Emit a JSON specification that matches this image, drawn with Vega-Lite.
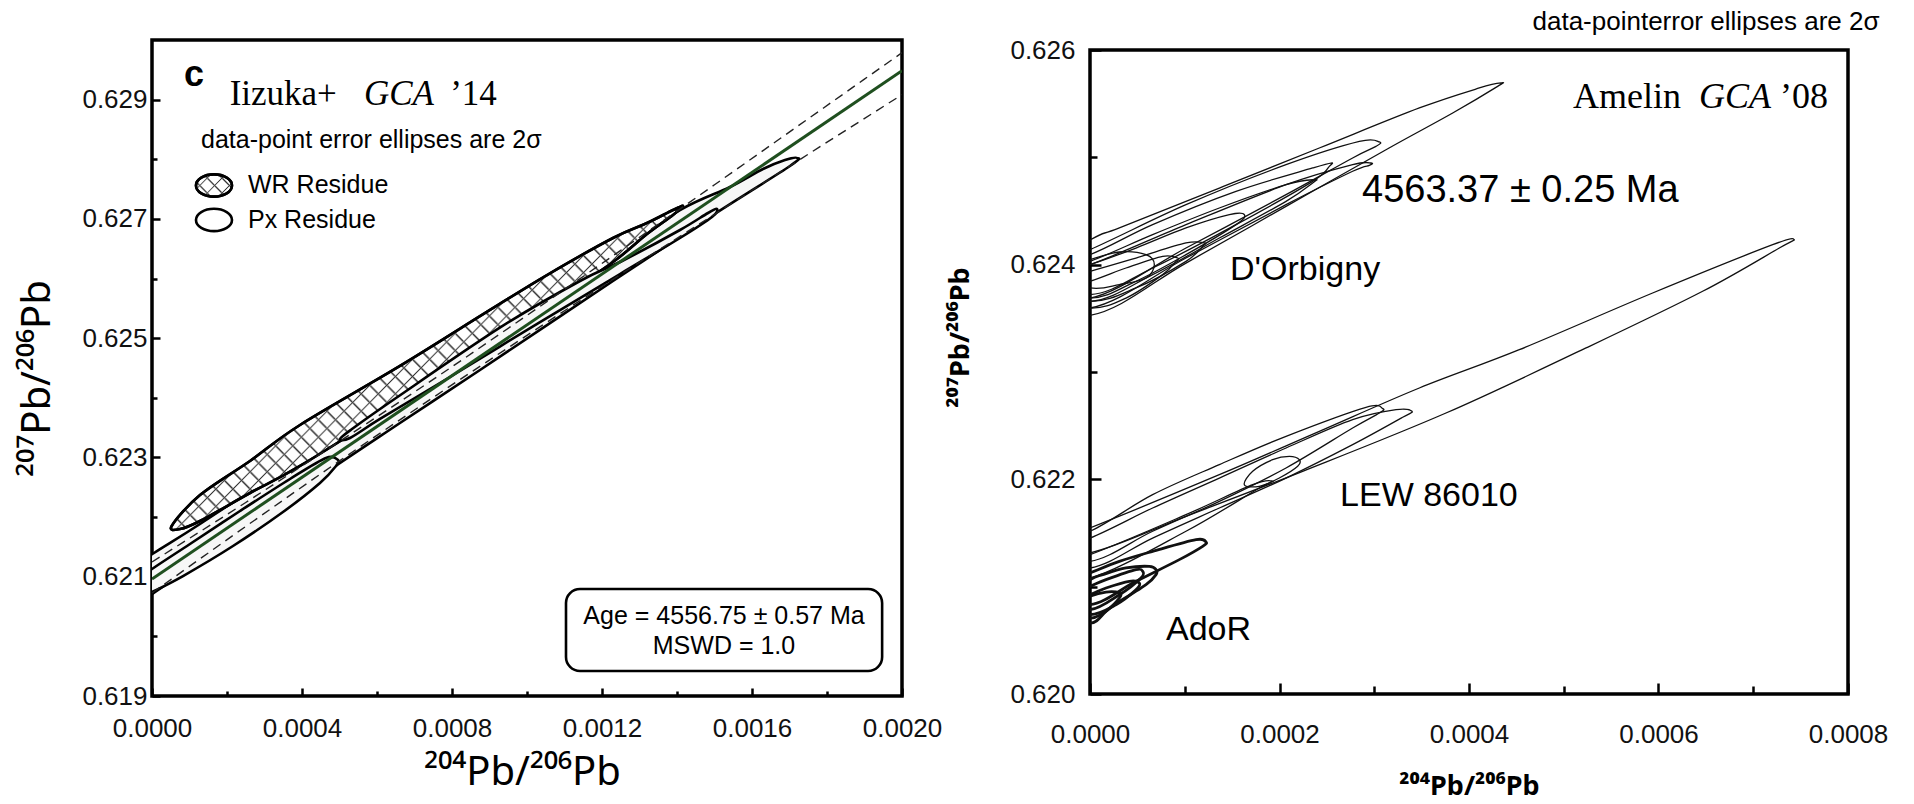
{
"$schema": "https://vega.github.io/schema/vega-lite/v6.json",
"background": "white",
"padding": {"left": 15, "top": 9, "right": 5, "bottom": 0},
"title": {"text": "data-pointerror ellipses are 2σ", "anchor": "end", "dx": -10, "fontSize": 26, "fontWeight": "normal", "font": "Liberation Sans", "color": "black", "offset": 0},
"spacing": 0,
"datasets": {
"lell": [
{"id":"WR","i":0,"x":0.0000525,"y":0.621851},{"id":"WR","i":1,"x":0.000128,"y":0.622370},{"id":"WR","i":2,"x":0.0002613,"y":0.622941},{"id":"WR","i":3,"x":0.0003947,"y":0.623544},{"id":"WR","i":4,"x":0.0006613,"y":0.624534},{"id":"WR","i":5,"x":0.0009013,"y":0.625473},{"id":"WR","i":6,"x":0.0010533,"y":0.626059},{"id":"WR","i":7,"x":0.0012293,"y":0.626680},{"id":"WR","i":8,"x":0.0013200,"y":0.626931},{"id":"WR","i":9,"x":0.0013893,"y":0.627149},{"id":"WR","i":10,"x":0.0014160,"y":0.627216},{"id":"WR","i":11,"x":0.0013893,"y":0.627066},{"id":"WR","i":12,"x":0.0013200,"y":0.626747},{"id":"WR","i":13,"x":0.0012293,"y":0.626277},{"id":"WR","i":14,"x":0.0010533,"y":0.625523},{"id":"WR","i":15,"x":0.0009013,"y":0.624902},{"id":"WR","i":16,"x":0.0006613,"y":0.623913},{"id":"WR","i":17,"x":0.0003947,"y":0.622857},{"id":"WR","i":18,"x":0.0002613,"y":0.622404},{"id":"WR","i":19,"x":0.000128,"y":0.621934},{"id":"WR","i":20,"x":0.0000747,"y":0.621800},
{"id":"Px2","i":0,"x":0.0017200,"y":0.628021},{"id":"Px2","i":1,"x":0.0016880,"y":0.627988},{"id":"Px2","i":2,"x":0.0016293,"y":0.627837},{"id":"Px2","i":3,"x":0.0015413,"y":0.627535},{"id":"Px2","i":4,"x":0.0014080,"y":0.627149},{"id":"Px2","i":5,"x":0.0011947,"y":0.626311},{"id":"Px2","i":6,"x":0.0009280,"y":0.625221},{"id":"Px2","i":7,"x":0.0006613,"y":0.624098},{"id":"Px2","i":8,"x":0.0003947,"y":0.622991},{"id":"Px2","i":9,"x":0.0001280,"y":0.621884},{"id":"Px2","i":10,"x":0.0000053,"y":0.621398},{"id":"Px2","i":11,"x":-0.0000587,"y":0.621113},{"id":"Px2","i":12,"x":-0.0001067,"y":0.620744},{"id":"Px2","i":13,"x":-0.0000720,"y":0.620526},{"id":"Px2","i":14,"x":0,"y":0.620710},{"id":"Px2","i":15,"x":0.0001280,"y":0.621281},{"id":"Px2","i":16,"x":0.0003947,"y":0.622454},{"id":"Px2","i":17,"x":0.0006613,"y":0.623578},{"id":"Px2","i":18,"x":0.0008747,"y":0.624467},{"id":"Px2","i":19,"x":0.0012293,"y":0.625959},{"id":"Px2","i":20,"x":0.0014960,"y":0.627066},{"id":"Px2","i":21,"x":0.0017013,"y":0.627887},
{"id":"Px1","i":0,"x":0.000496,"y":0.622957},{"id":"Px1","i":1,"x":0.000464,"y":0.622991},{"id":"Px1","i":2,"x":0.000368,"y":0.622639},{"id":"Px1","i":3,"x":0.0002347,"y":0.622102},{"id":"Px1","i":4,"x":0.0001013,"y":0.621549},{"id":"Px1","i":5,"x":0,"y":0.621130},{"id":"Px1","i":6,"x":-0.000072,"y":0.620811},{"id":"Px1","i":7,"x":-0.0000987,"y":0.620643},{"id":"Px1","i":8,"x":-0.0000587,"y":0.620576},{"id":"Px1","i":9,"x":0,"y":0.620744},{"id":"Px1","i":10,"x":0.0000827,"y":0.621012},{"id":"Px1","i":11,"x":0.000216,"y":0.621515},{"id":"Px1","i":12,"x":0.0003493,"y":0.622085},{"id":"Px1","i":13,"x":0.000448,"y":0.622572},{"id":"Px1","i":14,"x":0.0004907,"y":0.622857},
{"id":"Px3","i":0,"x":0.0005013,"y":0.623310},{"id":"Px3","i":1,"x":0.0005333,"y":0.623477},{"id":"Px3","i":2,"x":0.0006507,"y":0.623997},{"id":"Px3","i":3,"x":0.0009307,"y":0.625188},{"id":"Px3","i":4,"x":0.0011413,"y":0.625959},{"id":"Px3","i":5,"x":0.0012587,"y":0.626311},{"id":"Px3","i":6,"x":0.0014080,"y":0.626814},{"id":"Px3","i":7,"x":0.0014827,"y":0.627099},{"id":"Px3","i":8,"x":0.0015067,"y":0.627166},{"id":"Px3","i":9,"x":0.0014933,"y":0.627032},{"id":"Px3","i":10,"x":0.0014080,"y":0.626680},{"id":"Px3","i":11,"x":0.001248,"y":0.626076},{"id":"Px3","i":12,"x":0.0010347,"y":0.625271},{"id":"Px3","i":13,"x":0.0007947,"y":0.624349},{"id":"Px3","i":14,"x":0.000608,"y":0.623645},{"id":"Px3","i":15,"x":0.000528,"y":0.623326}
],
"llines": [
{"s":"fit","x":0,"y":0.620962},{"s":"fit","x":0.002,"y":0.629485},
{"s":"up","x":0,"y":0.621247},{"s":"up","x":0.00025,"y":0.622245},{"s":"up","x":0.0005,"y":0.623269},{"s":"up","x":0.00075,"y":0.624309},{"s":"up","x":0.001,"y":0.625383},{"s":"up","x":0.00125,"y":0.626473},{"s":"up","x":0.0015,"y":0.627572},{"s":"up","x":0.00175,"y":0.628680},{"s":"up","x":0.002,"y":0.629787},
{"s":"lo","x":0,"y":0.620727},{"s":"lo","x":0.00025,"y":0.621843},{"s":"lo","x":0.0005,"y":0.622942},{"s":"lo","x":0.00075,"y":0.624007},{"s":"lo","x":0.001,"y":0.625048},{"s":"lo","x":0.00125,"y":0.626071},{"s":"lo","x":0.0015,"y":0.627077},{"s":"lo","x":0.00175,"y":0.628085},{"s":"lo","x":0.002,"y":0.629083}
],
"lleg": [{"k":"WR","x":0.0001653,"y":0.627560},{"k":"Px","x":0.0001653,"y":0.626982}],
"lbox": [{"x":0.001104,"x2":0.001947,"y":0.619419,"y2":0.620794}],
"ltext": [
{"t":"data-point error ellipses are 2σ","x":0.0001307,"y":0.628189},
{"t":"WR Residue","x":0.000256,"y":0.627434},
{"t":"Px Residue","x":0.000256,"y":0.626848},
{"t":"Age = 4556.75 ± 0.57 Ma","x":0.0015253,"y":0.620212},
{"t":"MSWD = 1.0","x":0.0015253,"y":0.619709},
{"t":"Iizuka+","x":0.000207,"y":0.628910},
{"t":"GCA","x":0.000565,"y":0.628910},
{"t":"’14","x":0.000795,"y":0.628910},
{"t":"c","x":0.0000853,"y":0.629229}
],
"rell": [
{"id":"DA","i":0,"x":0.0004338,"y":0.625693},{"id":"DA","i":1,"x":0.0004109,"y":0.625646},{"id":"DA","i":2,"x":0.0003476,"y":0.625460},{"id":"DA","i":3,"x":0.0002420,"y":0.625087},{"id":"DA","i":4,"x":0.0001365,"y":0.624714},{"id":"DA","i":5,"x":0.0000310,"y":0.624342},{"id":"DA","i":6,"x":0,"y":0.624230},{"id":"DA","i":7,"x":-0.00009,"y":0.62375},{"id":"DA","i":8,"x":0,"y":0.623528},{"id":"DA","i":9,"x":0.0001013,"y":0.624015},{"id":"DA","i":10,"x":0.0002069,"y":0.624543},{"id":"DA","i":11,"x":0.0003124,"y":0.625071},{"id":"DA","i":12,"x":0.0003828,"y":0.625413},{"id":"DA","i":13,"x":0.0004302,"y":0.625661},
{"id":"DB","i":0,"x":0.0003054,"y":0.625143},{"id":"DB","i":1,"x":0.0002843,"y":0.625149},{"id":"DB","i":2,"x":0.0002069,"y":0.624932},{"id":"DB","i":3,"x":0.0001013,"y":0.624559},{"id":"DB","i":4,"x":0,"y":0.624140},{"id":"DB","i":5,"x":-0.00008,"y":0.62385},{"id":"DB","i":6,"x":0,"y":0.623689},{"id":"DB","i":7,"x":0.0001013,"y":0.624155},{"id":"DB","i":8,"x":0.0002069,"y":0.624652},{"id":"DB","i":9,"x":0.0002772,"y":0.624994},{"id":"DB","i":10,"x":0.0003018,"y":0.625102},
{"id":"DC","i":0,"x":0.0002966,"y":0.624947},{"id":"DC","i":1,"x":0.0002772,"y":0.624932},{"id":"DC","i":2,"x":0.0002069,"y":0.624745},{"id":"DC","i":3,"x":0.0001013,"y":0.624373},{"id":"DC","i":4,"x":0,"y":0.624000},{"id":"DC","i":5,"x":-0.00008,"y":0.62380},{"id":"DC","i":6,"x":0,"y":0.623596},{"id":"DC","i":7,"x":0.0001013,"y":0.624062},{"id":"DC","i":8,"x":0.0002069,"y":0.624559},{"id":"DC","i":9,"x":0.0002772,"y":0.624870},{"id":"DC","i":10,"x":0.0002948,"y":0.624925},
{"id":"DD","i":0,"x":0.0002544,"y":0.624947},{"id":"DD","i":1,"x":0.0002350,"y":0.624901},{"id":"DD","i":2,"x":0.0001541,"y":0.624683},{"id":"DD","i":3,"x":0.0000661,"y":0.624373},{"id":"DD","i":4,"x":0,"y":0.624093},{"id":"DD","i":5,"x":-0.00007,"y":0.62390},{"id":"DD","i":6,"x":0,"y":0.623721},{"id":"DD","i":7,"x":0.0000661,"y":0.623969},{"id":"DD","i":8,"x":0.0001541,"y":0.624373},{"id":"DD","i":9,"x":0.0002350,"y":0.624776},{"id":"DD","i":10,"x":0.0002526,"y":0.624916},
{"id":"DE","i":0,"x":0.0002368,"y":0.624792},{"id":"DE","i":1,"x":0.0002069,"y":0.624745},{"id":"DE","i":2,"x":0.0001365,"y":0.624528},{"id":"DE","i":3,"x":0.0000661,"y":0.624280},{"id":"DE","i":4,"x":0,"y":0.624031},{"id":"DE","i":5,"x":-0.00007,"y":0.62383},{"id":"DE","i":6,"x":0,"y":0.623658},{"id":"DE","i":7,"x":0.0000661,"y":0.623907},{"id":"DE","i":8,"x":0.0001365,"y":0.624248},{"id":"DE","i":9,"x":0.0002069,"y":0.624590},{"id":"DE","i":10,"x":0.0002350,"y":0.624761},
{"id":"DF","i":0,"x":0.0001629,"y":0.624466},{"id":"DF","i":1,"x":0.0001471,"y":0.624466},{"id":"DF","i":2,"x":0.0001013,"y":0.624342},{"id":"DF","i":3,"x":0.0000485,"y":0.624155},{"id":"DF","i":4,"x":0,"y":0.624000},{"id":"DF","i":5,"x":-0.00006,"y":0.62384},{"id":"DF","i":6,"x":0,"y":0.623689},{"id":"DF","i":7,"x":0.0000485,"y":0.623845},{"id":"DF","i":8,"x":0.0001013,"y":0.624093},{"id":"DF","i":9,"x":0.0001541,"y":0.624373},
{"id":"DG","i":0,"x":0.0001207,"y":0.624202},{"id":"DG","i":1,"x":0.0001013,"y":0.624202},{"id":"DG","i":2,"x":0.0000485,"y":0.624062},{"id":"DG","i":3,"x":0,"y":0.623938},{"id":"DG","i":4,"x":-0.00006,"y":0.62380},{"id":"DG","i":5,"x":0,"y":0.623658},{"id":"DG","i":6,"x":0.0000485,"y":0.623783},{"id":"DG","i":7,"x":0.0001013,"y":0.624031},{"id":"DG","i":8,"x":0.0001189,"y":0.624171},
{"id":"DH","i":0,"x":0.0000925,"y":0.624062},{"id":"DH","i":1,"x":0.0000767,"y":0.624078},{"id":"DH","i":2,"x":0.0000380,"y":0.623969},{"id":"DH","i":3,"x":0,"y":0.623845},{"id":"DH","i":4,"x":-0.00005,"y":0.62372},{"id":"DH","i":5,"x":0,"y":0.623596},{"id":"DH","i":6,"x":0.0000380,"y":0.623689},{"id":"DH","i":7,"x":0.0000767,"y":0.623907},{"id":"DH","i":8,"x":0.0000908,"y":0.624031},
{"id":"DI","i":0,"x":0.0000679,"y":0.624000},{"id":"DI","i":1,"x":0.0000591,"y":0.624093},{"id":"DI","i":2,"x":0.0000310,"y":0.624118},{"id":"DI","i":3,"x":0,"y":0.624047},{"id":"DI","i":4,"x":-0.00005,"y":0.62392},{"id":"DI","i":5,"x":0,"y":0.623783},{"id":"DI","i":6,"x":0.0000310,"y":0.623814},{"id":"DI","i":7,"x":0.0000591,"y":0.623876},
{"id":"L1","i":0,"x":0.0007430,"y":0.624233},{"id":"L1","i":1,"x":0.0007205,"y":0.624186},{"id":"L1","i":2,"x":0.0005938,"y":0.623736},{"id":"L1","i":3,"x":0.0004531,"y":0.623208},{"id":"L1","i":4,"x":0.0003476,"y":0.622851},{"id":"L1","i":5,"x":0.0002420,"y":0.622447},{"id":"L1","i":6,"x":0.0001365,"y":0.622043},{"id":"L1","i":7,"x":0,"y":0.621547},{"id":"L1","i":8,"x":-0.00009,"y":0.62125},{"id":"L1","i":9,"x":0,"y":0.621314},{"id":"L1","i":10,"x":0.0001013,"y":0.621655},{"id":"L1","i":11,"x":0.0002244,"y":0.622075},{"id":"L1","i":12,"x":0.0003757,"y":0.622618},{"id":"L1","i":13,"x":0.0005235,"y":0.623224},{"id":"L1","i":14,"x":0.0006466,"y":0.623752},{"id":"L1","i":15,"x":0.0007275,"y":0.624155},
{"id":"L2","i":0,"x":0.0003089,"y":0.622658},{"id":"L2","i":1,"x":0.0002913,"y":0.622671},{"id":"L2","i":2,"x":0.0002069,"y":0.622401},{"id":"L2","i":3,"x":0.0001365,"y":0.622137},{"id":"L2","i":4,"x":0.0000661,"y":0.621857},{"id":"L2","i":5,"x":0,"y":0.621516},{"id":"L2","i":6,"x":-0.00006,"y":0.62135},{"id":"L2","i":7,"x":0,"y":0.621236},{"id":"L2","i":8,"x":0.0000661,"y":0.621516},{"id":"L2","i":9,"x":0.0001365,"y":0.621795},{"id":"L2","i":10,"x":0.0002069,"y":0.622106},{"id":"L2","i":11,"x":0.0002772,"y":0.622478},{"id":"L2","i":12,"x":0.0003054,"y":0.622618},
{"id":"L3","i":0,"x":0.0003398,"y":0.622634},{"id":"L3","i":1,"x":0.0003230,"y":0.622649},{"id":"L3","i":2,"x":0.0002772,"y":0.622556},{"id":"L3","i":3,"x":0.0002069,"y":0.622292},{"id":"L3","i":4,"x":0.0001365,"y":0.622012},{"id":"L3","i":5,"x":0.0000661,"y":0.621733},{"id":"L3","i":6,"x":0,"y":0.621453},{"id":"L3","i":7,"x":-0.00006,"y":0.62128},{"id":"L3","i":8,"x":0,"y":0.621174},{"id":"L3","i":9,"x":0.0000661,"y":0.621453},{"id":"L3","i":10,"x":0.0001365,"y":0.621733},{"id":"L3","i":11,"x":0.0002069,"y":0.622012},{"id":"L3","i":12,"x":0.0002772,"y":0.622323},{"id":"L3","i":13,"x":0.0003300,"y":0.622578},
{"id":"L4","i":0,"x":0.0002209,"y":0.622183},{"id":"L4","i":1,"x":0.0002104,"y":0.622214},{"id":"L4","i":2,"x":0.0001928,"y":0.622183},{"id":"L4","i":3,"x":0.0001717,"y":0.622075},{"id":"L4","i":4,"x":0.0001629,"y":0.621950},{"id":"L4","i":5,"x":0.0001787,"y":0.621935},{"id":"L4","i":6,"x":0.0001998,"y":0.622012},{"id":"L4","i":7,"x":0.0002192,"y":0.622121},
{"id":"L5","i":0,"x":0.0001928,"y":0.621981},{"id":"L5","i":1,"x":0.0001717,"y":0.621950},{"id":"L5","i":2,"x":0.0001013,"y":0.621671},{"id":"L5","i":3,"x":0,"y":0.621298},{"id":"L5","i":4,"x":-0.00005,"y":0.62118},{"id":"L5","i":5,"x":0,"y":0.621081},{"id":"L5","i":6,"x":0.0001013,"y":0.621516},{"id":"L5","i":7,"x":0.0001787,"y":0.621919},
{"id":"A1","i":0,"x":0.0001224,"y":0.621416},{"id":"A1","i":1,"x":0.0001119,"y":0.621438},{"id":"A1","i":2,"x":0.0000661,"y":0.621329},{"id":"A1","i":3,"x":0.0000310,"y":0.621236},{"id":"A1","i":4,"x":0,"y":0.621127},{"id":"A1","i":5,"x":-0.00004,"y":0.62098},{"id":"A1","i":6,"x":0,"y":0.620832},{"id":"A1","i":7,"x":0.0000485,"y":0.621050},{"id":"A1","i":8,"x":0.0000943,"y":0.621252},{"id":"A1","i":9,"x":0.0001189,"y":0.621376},
{"id":"A2","i":0,"x":0.0000697,"y":0.621158},{"id":"A2","i":1,"x":0.0000626,"y":0.621189},{"id":"A2","i":2,"x":0.0000380,"y":0.621174},{"id":"A2","i":3,"x":0.0000134,"y":0.621112},{"id":"A2","i":4,"x":0,"y":0.621065},{"id":"A2","i":5,"x":-0.00003,"y":0.62090},{"id":"A2","i":6,"x":0,"y":0.620708},{"id":"A2","i":7,"x":0.0000310,"y":0.620863},{"id":"A2","i":8,"x":0.0000591,"y":0.621019},{"id":"A2","i":9,"x":0.0000697,"y":0.621112},
{"id":"A3","i":0,"x":0.0000556,"y":0.621143},{"id":"A3","i":1,"x":0.0000485,"y":0.621158},{"id":"A3","i":2,"x":0.0000169,"y":0.621065},{"id":"A3","i":3,"x":0,"y":0.621003},{"id":"A3","i":4,"x":-0.00003,"y":0.62089},{"id":"A3","i":5,"x":0,"y":0.620786},{"id":"A3","i":6,"x":0.0000310,"y":0.620925},{"id":"A3","i":7,"x":0.0000538,"y":0.621081},
{"id":"A4","i":0,"x":0.0000521,"y":0.621034},{"id":"A4","i":1,"x":0.0000415,"y":0.621050},{"id":"A4","i":2,"x":0.0000169,"y":0.620988},{"id":"A4","i":3,"x":0,"y":0.620925},{"id":"A4","i":4,"x":-0.00003,"y":0.62083},{"id":"A4","i":5,"x":0,"y":0.620739},{"id":"A4","i":6,"x":0.0000274,"y":0.620832},{"id":"A4","i":7,"x":0.0000485,"y":0.620972},
{"id":"A5","i":0,"x":0.0000310,"y":0.620941},{"id":"A5","i":1,"x":0.0000169,"y":0.620950},{"id":"A5","i":2,"x":0,"y":0.620910},{"id":"A5","i":3,"x":-0.00003,"y":0.62078},{"id":"A5","i":4,"x":0,"y":0.620661},{"id":"A5","i":5,"x":0.0000169,"y":0.620770},{"id":"A5","i":6,"x":0.0000310,"y":0.620894}
],
"rtext": [
{"t":"Amelin","x":0.0005098,"y":0.625460},
{"t":"GCA","x":0.0006427,"y":0.625460},
{"t":"’08","x":0.0007282,"y":0.625460},
{"t":"4563.37 ± 0.25 Ma","x":0.0002871,"y":0.624587},
{"t":"D'Orbigny","x":0.0001478,"y":0.623857},
{"t":"LEW  86010","x":0.0002639,"y":0.621752},
{"t":"AdoR","x":0.0000802,"y":0.620503}
]
},
"hconcat": [
{
"width": 750, "height": 656,
"encoding": {
"x": {"field": "x", "type": "quantitative", "scale": {"domain": [0, 0.002], "nice": false, "zero": false},
 "axis": {"values": [0,0.0002,0.0004,0.0006,0.0008,0.001,0.0012,0.0014,0.0016,0.0018,0.002],
  "labelExpr": "round(datum.value*10000) % 4 == 0 ? format(datum.value, '.4f') : ''",
  "tickSize": {"condition": {"test": "round(datum.value*10000) % 4 == 0", "value": -8}, "value": -5},
  "labelPadding": 27, "title": "²⁰⁴Pb/²⁰⁶Pb", "titleFont": "Noto Sans", "titleFontSize": 40, "titleFontWeight": "normal",
  "titleX": 370, "titleY": 88, "titleBaseline": "alphabetic"}},
"y": {"field": "y", "type": "quantitative", "scale": {"domain": [0.619, 0.630], "nice": false, "zero": false},
 "axis": {"values": [0.619,0.620,0.621,0.622,0.623,0.624,0.625,0.626,0.627,0.628,0.629],
  "labelExpr": "round(datum.value*1000) % 2 == 1 ? format(datum.value, '.3f') : ''",
  "tickSize": {"condition": {"test": "round(datum.value*1000) % 2 == 1", "value": -8}, "value": -5},
  "labelPadding": 13, "title": "²⁰⁷Pb/²⁰⁶Pb", "titleFont": "Noto Sans", "titleFontSize": 40, "titleFontWeight": "normal",
  "titleX": -103, "titleY": 338, "titleBaseline": "alphabetic"}}
},
"layer": [
{"data": {"name": "lell"}, "transform": [{"filter": {"field": "id", "equal": "Px2"}}],
 "mark": {"type": "line", "interpolate": "cardinal-closed", "fill": "#f7f7f7", "stroke": "black", "strokeWidth": 2.6, "clip": true},
 "encoding": {"order": {"field": "i", "type": "quantitative"}, "detail": {"field": "id", "type": "nominal"}}},
{"data": {"name": "lell"}, "transform": [{"filter": {"field": "id", "equal": "WR"}}],
 "mark": {"type": "line", "interpolate": "cardinal-closed", "stroke": "black", "strokeWidth": 2.6, "clip": true,
  "fill": {"gradient": "linear", "x1": 0, "y1": 1, "x2": 1.2, "y2": 0.25, "stops": [
{"offset":0,"color":"#333"},{"offset":0.0025,"color":"#fff"},{"offset":0.0175,"color":"#fff"},
{"offset":0.02,"color":"#333"},{"offset":0.0225,"color":"#fff"},{"offset":0.0375,"color":"#fff"},
{"offset":0.04,"color":"#333"},{"offset":0.0425,"color":"#fff"},{"offset":0.0575,"color":"#fff"},
{"offset":0.06,"color":"#333"},{"offset":0.0625,"color":"#fff"},{"offset":0.0775,"color":"#fff"},
{"offset":0.08,"color":"#333"},{"offset":0.0825,"color":"#fff"},{"offset":0.0975,"color":"#fff"},
{"offset":0.1,"color":"#333"},{"offset":0.1025,"color":"#fff"},{"offset":0.1175,"color":"#fff"},
{"offset":0.12,"color":"#333"},{"offset":0.1225,"color":"#fff"},{"offset":0.1375,"color":"#fff"},
{"offset":0.14,"color":"#333"},{"offset":0.1425,"color":"#fff"},{"offset":0.1575,"color":"#fff"},
{"offset":0.16,"color":"#333"},{"offset":0.1625,"color":"#fff"},{"offset":0.1775,"color":"#fff"},
{"offset":0.18,"color":"#333"},{"offset":0.1825,"color":"#fff"},{"offset":0.1975,"color":"#fff"},
{"offset":0.2,"color":"#333"},{"offset":0.2025,"color":"#fff"},{"offset":0.2175,"color":"#fff"},
{"offset":0.22,"color":"#333"},{"offset":0.2225,"color":"#fff"},{"offset":0.2375,"color":"#fff"},
{"offset":0.24,"color":"#333"},{"offset":0.2425,"color":"#fff"},{"offset":0.2575,"color":"#fff"},
{"offset":0.26,"color":"#333"},{"offset":0.2625,"color":"#fff"},{"offset":0.2775,"color":"#fff"},
{"offset":0.28,"color":"#333"},{"offset":0.2825,"color":"#fff"},{"offset":0.2975,"color":"#fff"},
{"offset":0.3,"color":"#333"},{"offset":0.3025,"color":"#fff"},{"offset":0.3175,"color":"#fff"},
{"offset":0.32,"color":"#333"},{"offset":0.3225,"color":"#fff"},{"offset":0.3375,"color":"#fff"},
{"offset":0.34,"color":"#333"},{"offset":0.3425,"color":"#fff"},{"offset":0.3575,"color":"#fff"},
{"offset":0.36,"color":"#333"},{"offset":0.3625,"color":"#fff"},{"offset":0.3775,"color":"#fff"},
{"offset":0.38,"color":"#333"},{"offset":0.3825,"color":"#fff"},{"offset":0.3975,"color":"#fff"},
{"offset":0.4,"color":"#333"},{"offset":0.4025,"color":"#fff"},{"offset":0.4175,"color":"#fff"},
{"offset":0.42,"color":"#333"},{"offset":0.4225,"color":"#fff"},{"offset":0.4375,"color":"#fff"},
{"offset":0.44,"color":"#333"},{"offset":0.4425,"color":"#fff"},{"offset":0.4575,"color":"#fff"},
{"offset":0.46,"color":"#333"},{"offset":0.4625,"color":"#fff"},{"offset":0.4775,"color":"#fff"},
{"offset":0.48,"color":"#333"},{"offset":0.4825,"color":"#fff"},{"offset":0.4975,"color":"#fff"},
{"offset":0.5,"color":"#333"},{"offset":0.5025,"color":"#fff"},{"offset":0.5175,"color":"#fff"},
{"offset":0.52,"color":"#333"},{"offset":0.5225,"color":"#fff"},{"offset":0.5375,"color":"#fff"},
{"offset":0.54,"color":"#333"},{"offset":0.5425,"color":"#fff"},{"offset":0.5575,"color":"#fff"},
{"offset":0.56,"color":"#333"},{"offset":0.5625,"color":"#fff"},{"offset":0.5775,"color":"#fff"},
{"offset":0.58,"color":"#333"},{"offset":0.5825,"color":"#fff"},{"offset":0.5975,"color":"#fff"},
{"offset":0.6,"color":"#333"},{"offset":0.6025,"color":"#fff"},{"offset":0.6175,"color":"#fff"},
{"offset":0.62,"color":"#333"},{"offset":0.6225,"color":"#fff"},{"offset":0.6375,"color":"#fff"},
{"offset":0.64,"color":"#333"},{"offset":0.6425,"color":"#fff"},{"offset":0.6575,"color":"#fff"},
{"offset":0.66,"color":"#333"},{"offset":0.6625,"color":"#fff"},{"offset":0.6775,"color":"#fff"},
{"offset":0.68,"color":"#333"},{"offset":0.6825,"color":"#fff"},{"offset":0.6975,"color":"#fff"},
{"offset":0.7,"color":"#333"},{"offset":0.7025,"color":"#fff"},{"offset":0.7175,"color":"#fff"},
{"offset":0.72,"color":"#333"},{"offset":0.7225,"color":"#fff"},{"offset":0.7375,"color":"#fff"},
{"offset":0.74,"color":"#333"},{"offset":0.7425,"color":"#fff"},{"offset":0.7575,"color":"#fff"},
{"offset":0.76,"color":"#333"},{"offset":0.7625,"color":"#fff"},{"offset":0.7775,"color":"#fff"},
{"offset":0.78,"color":"#333"},{"offset":0.7825,"color":"#fff"},{"offset":0.7975,"color":"#fff"},
{"offset":0.8,"color":"#333"},{"offset":0.8025,"color":"#fff"},{"offset":0.8175,"color":"#fff"},
{"offset":0.82,"color":"#333"},{"offset":0.8225,"color":"#fff"},{"offset":0.8375,"color":"#fff"},
{"offset":0.84,"color":"#333"},{"offset":0.8425,"color":"#fff"},{"offset":0.8575,"color":"#fff"},
{"offset":0.86,"color":"#333"},{"offset":0.8625,"color":"#fff"},{"offset":0.8775,"color":"#fff"},
{"offset":0.88,"color":"#333"},{"offset":0.8825,"color":"#fff"},{"offset":0.8975,"color":"#fff"},
{"offset":0.9,"color":"#333"},{"offset":0.9025,"color":"#fff"},{"offset":0.9175,"color":"#fff"},
{"offset":0.92,"color":"#333"},{"offset":0.9225,"color":"#fff"},{"offset":0.9375,"color":"#fff"},
{"offset":0.94,"color":"#333"},{"offset":0.9425,"color":"#fff"},{"offset":0.9575,"color":"#fff"},
{"offset":0.96,"color":"#333"},{"offset":0.9625,"color":"#fff"},{"offset":0.9775,"color":"#fff"},
{"offset":0.98,"color":"#333"},{"offset":0.9825,"color":"#fff"},{"offset":0.9975,"color":"#fff"},
{"offset":1,"color":"#333"}]}},
 "encoding": {"order": {"field": "i", "type": "quantitative"}, "detail": {"field": "id", "type": "nominal"}}},
{"data": {"name": "lell"}, "transform": [{"filter": {"field": "id", "equal": "WR"}}],
 "mark": {"type": "line", "interpolate": "cardinal-closed", "stroke": "black", "strokeWidth": 2.6, "clip": true,
  "fill": {"gradient": "linear", "x1": 0, "y1": 0, "x2": 1.2, "y2": 0.75, "stops": [
{"offset":0,"color":"#333"},{"offset":0.0025,"color":"rgba(255,255,255,0)"},{"offset":0.0175,"color":"rgba(255,255,255,0)"},
{"offset":0.02,"color":"#333"},{"offset":0.0225,"color":"rgba(255,255,255,0)"},{"offset":0.0375,"color":"rgba(255,255,255,0)"},
{"offset":0.04,"color":"#333"},{"offset":0.0425,"color":"rgba(255,255,255,0)"},{"offset":0.0575,"color":"rgba(255,255,255,0)"},
{"offset":0.06,"color":"#333"},{"offset":0.0625,"color":"rgba(255,255,255,0)"},{"offset":0.0775,"color":"rgba(255,255,255,0)"},
{"offset":0.08,"color":"#333"},{"offset":0.0825,"color":"rgba(255,255,255,0)"},{"offset":0.0975,"color":"rgba(255,255,255,0)"},
{"offset":0.1,"color":"#333"},{"offset":0.1025,"color":"rgba(255,255,255,0)"},{"offset":0.1175,"color":"rgba(255,255,255,0)"},
{"offset":0.12,"color":"#333"},{"offset":0.1225,"color":"rgba(255,255,255,0)"},{"offset":0.1375,"color":"rgba(255,255,255,0)"},
{"offset":0.14,"color":"#333"},{"offset":0.1425,"color":"rgba(255,255,255,0)"},{"offset":0.1575,"color":"rgba(255,255,255,0)"},
{"offset":0.16,"color":"#333"},{"offset":0.1625,"color":"rgba(255,255,255,0)"},{"offset":0.1775,"color":"rgba(255,255,255,0)"},
{"offset":0.18,"color":"#333"},{"offset":0.1825,"color":"rgba(255,255,255,0)"},{"offset":0.1975,"color":"rgba(255,255,255,0)"},
{"offset":0.2,"color":"#333"},{"offset":0.2025,"color":"rgba(255,255,255,0)"},{"offset":0.2175,"color":"rgba(255,255,255,0)"},
{"offset":0.22,"color":"#333"},{"offset":0.2225,"color":"rgba(255,255,255,0)"},{"offset":0.2375,"color":"rgba(255,255,255,0)"},
{"offset":0.24,"color":"#333"},{"offset":0.2425,"color":"rgba(255,255,255,0)"},{"offset":0.2575,"color":"rgba(255,255,255,0)"},
{"offset":0.26,"color":"#333"},{"offset":0.2625,"color":"rgba(255,255,255,0)"},{"offset":0.2775,"color":"rgba(255,255,255,0)"},
{"offset":0.28,"color":"#333"},{"offset":0.2825,"color":"rgba(255,255,255,0)"},{"offset":0.2975,"color":"rgba(255,255,255,0)"},
{"offset":0.3,"color":"#333"},{"offset":0.3025,"color":"rgba(255,255,255,0)"},{"offset":0.3175,"color":"rgba(255,255,255,0)"},
{"offset":0.32,"color":"#333"},{"offset":0.3225,"color":"rgba(255,255,255,0)"},{"offset":0.3375,"color":"rgba(255,255,255,0)"},
{"offset":0.34,"color":"#333"},{"offset":0.3425,"color":"rgba(255,255,255,0)"},{"offset":0.3575,"color":"rgba(255,255,255,0)"},
{"offset":0.36,"color":"#333"},{"offset":0.3625,"color":"rgba(255,255,255,0)"},{"offset":0.3775,"color":"rgba(255,255,255,0)"},
{"offset":0.38,"color":"#333"},{"offset":0.3825,"color":"rgba(255,255,255,0)"},{"offset":0.3975,"color":"rgba(255,255,255,0)"},
{"offset":0.4,"color":"#333"},{"offset":0.4025,"color":"rgba(255,255,255,0)"},{"offset":0.4175,"color":"rgba(255,255,255,0)"},
{"offset":0.42,"color":"#333"},{"offset":0.4225,"color":"rgba(255,255,255,0)"},{"offset":0.4375,"color":"rgba(255,255,255,0)"},
{"offset":0.44,"color":"#333"},{"offset":0.4425,"color":"rgba(255,255,255,0)"},{"offset":0.4575,"color":"rgba(255,255,255,0)"},
{"offset":0.46,"color":"#333"},{"offset":0.4625,"color":"rgba(255,255,255,0)"},{"offset":0.4775,"color":"rgba(255,255,255,0)"},
{"offset":0.48,"color":"#333"},{"offset":0.4825,"color":"rgba(255,255,255,0)"},{"offset":0.4975,"color":"rgba(255,255,255,0)"},
{"offset":0.5,"color":"#333"},{"offset":0.5025,"color":"rgba(255,255,255,0)"},{"offset":0.5175,"color":"rgba(255,255,255,0)"},
{"offset":0.52,"color":"#333"},{"offset":0.5225,"color":"rgba(255,255,255,0)"},{"offset":0.5375,"color":"rgba(255,255,255,0)"},
{"offset":0.54,"color":"#333"},{"offset":0.5425,"color":"rgba(255,255,255,0)"},{"offset":0.5575,"color":"rgba(255,255,255,0)"},
{"offset":0.56,"color":"#333"},{"offset":0.5625,"color":"rgba(255,255,255,0)"},{"offset":0.5775,"color":"rgba(255,255,255,0)"},
{"offset":0.58,"color":"#333"},{"offset":0.5825,"color":"rgba(255,255,255,0)"},{"offset":0.5975,"color":"rgba(255,255,255,0)"},
{"offset":0.6,"color":"#333"},{"offset":0.6025,"color":"rgba(255,255,255,0)"},{"offset":0.6175,"color":"rgba(255,255,255,0)"},
{"offset":0.62,"color":"#333"},{"offset":0.6225,"color":"rgba(255,255,255,0)"},{"offset":0.6375,"color":"rgba(255,255,255,0)"},
{"offset":0.64,"color":"#333"},{"offset":0.6425,"color":"rgba(255,255,255,0)"},{"offset":0.6575,"color":"rgba(255,255,255,0)"},
{"offset":0.66,"color":"#333"},{"offset":0.6625,"color":"rgba(255,255,255,0)"},{"offset":0.6775,"color":"rgba(255,255,255,0)"},
{"offset":0.68,"color":"#333"},{"offset":0.6825,"color":"rgba(255,255,255,0)"},{"offset":0.6975,"color":"rgba(255,255,255,0)"},
{"offset":0.7,"color":"#333"},{"offset":0.7025,"color":"rgba(255,255,255,0)"},{"offset":0.7175,"color":"rgba(255,255,255,0)"},
{"offset":0.72,"color":"#333"},{"offset":0.7225,"color":"rgba(255,255,255,0)"},{"offset":0.7375,"color":"rgba(255,255,255,0)"},
{"offset":0.74,"color":"#333"},{"offset":0.7425,"color":"rgba(255,255,255,0)"},{"offset":0.7575,"color":"rgba(255,255,255,0)"},
{"offset":0.76,"color":"#333"},{"offset":0.7625,"color":"rgba(255,255,255,0)"},{"offset":0.7775,"color":"rgba(255,255,255,0)"},
{"offset":0.78,"color":"#333"},{"offset":0.7825,"color":"rgba(255,255,255,0)"},{"offset":0.7975,"color":"rgba(255,255,255,0)"},
{"offset":0.8,"color":"#333"},{"offset":0.8025,"color":"rgba(255,255,255,0)"},{"offset":0.8175,"color":"rgba(255,255,255,0)"},
{"offset":0.82,"color":"#333"},{"offset":0.8225,"color":"rgba(255,255,255,0)"},{"offset":0.8375,"color":"rgba(255,255,255,0)"},
{"offset":0.84,"color":"#333"},{"offset":0.8425,"color":"rgba(255,255,255,0)"},{"offset":0.8575,"color":"rgba(255,255,255,0)"},
{"offset":0.86,"color":"#333"},{"offset":0.8625,"color":"rgba(255,255,255,0)"},{"offset":0.8775,"color":"rgba(255,255,255,0)"},
{"offset":0.88,"color":"#333"},{"offset":0.8825,"color":"rgba(255,255,255,0)"},{"offset":0.8975,"color":"rgba(255,255,255,0)"},
{"offset":0.9,"color":"#333"},{"offset":0.9025,"color":"rgba(255,255,255,0)"},{"offset":0.9175,"color":"rgba(255,255,255,0)"},
{"offset":0.92,"color":"#333"},{"offset":0.9225,"color":"rgba(255,255,255,0)"},{"offset":0.9375,"color":"rgba(255,255,255,0)"},
{"offset":0.94,"color":"#333"},{"offset":0.9425,"color":"rgba(255,255,255,0)"},{"offset":0.9575,"color":"rgba(255,255,255,0)"},
{"offset":0.96,"color":"#333"},{"offset":0.9625,"color":"rgba(255,255,255,0)"},{"offset":0.9775,"color":"rgba(255,255,255,0)"},
{"offset":0.98,"color":"#333"},{"offset":0.9825,"color":"rgba(255,255,255,0)"},{"offset":0.9975,"color":"rgba(255,255,255,0)"},
{"offset":1,"color":"#333"}]}},
 "encoding": {"order": {"field": "i", "type": "quantitative"}, "detail": {"field": "id", "type": "nominal"}}},
{"data": {"name": "lell"}, "transform": [{"filter": {"field": "id", "oneOf": ["Px1", "Px3"]}}],
 "mark": {"type": "line", "interpolate": "cardinal-closed", "fill": "#f7f7f7", "stroke": "black", "strokeWidth": 2.6, "clip": true},
 "encoding": {"order": {"field": "i", "type": "quantitative"}, "detail": {"field": "id", "type": "nominal"}}},
{"data": {"name": "llines"}, "transform": [{"filter": {"field": "s", "oneOf": ["up", "lo"]}}],
 "mark": {"type": "line", "interpolate": "monotone", "stroke": "#222", "strokeWidth": 1.4, "strokeDash": [9, 6], "clip": true},
 "encoding": {"detail": {"field": "s", "type": "nominal"}}},
{"data": {"name": "llines"}, "transform": [{"filter": {"field": "s", "equal": "fit"}}],
 "mark": {"type": "line", "stroke": "#1f4f1f", "strokeWidth": 3, "clip": true},
 "encoding": {}},
{"data": {"name": "lleg"}, "transform": [{"filter": {"field": "k", "equal": "WR"}}],
 "mark": {"type": "point", "shape": "M-1,0A1,0.62,0,1,1,1,0A1,0.62,0,1,1,-1,0Z", "size": 1296, "filled": true, "stroke": "black", "strokeWidth": 2.6, "opacity": 1,
  "fill": {"gradient": "linear", "x1": 0, "y1": 1, "x2": 1.2, "y2": 0.27, "stops": [
{"offset":0,"color":"#333"},{"offset":0.03,"color":"#fff"},{"offset":0.22,"color":"#fff"},
{"offset":0.25,"color":"#333"},{"offset":0.28,"color":"#fff"},{"offset":0.47,"color":"#fff"},
{"offset":0.5,"color":"#333"},{"offset":0.53,"color":"#fff"},{"offset":0.72,"color":"#fff"},
{"offset":0.75,"color":"#333"},{"offset":0.78,"color":"#fff"},{"offset":0.97,"color":"#fff"},
{"offset":1,"color":"#333"}]}}},
{"data": {"name": "lleg"}, "transform": [{"filter": {"field": "k", "equal": "WR"}}],
 "mark": {"type": "point", "shape": "M-1,0A1,0.62,0,1,1,1,0A1,0.62,0,1,1,-1,0Z", "size": 1296, "filled": true, "stroke": "black", "strokeWidth": 2.6, "opacity": 1,
  "fill": {"gradient": "linear", "x1": 0, "y1": 0, "x2": 1.2, "y2": 0.73, "stops": [
{"offset":0,"color":"#333"},{"offset":0.03,"color":"rgba(255,255,255,0)"},{"offset":0.22,"color":"rgba(255,255,255,0)"},
{"offset":0.25,"color":"#333"},{"offset":0.28,"color":"rgba(255,255,255,0)"},{"offset":0.47,"color":"rgba(255,255,255,0)"},
{"offset":0.5,"color":"#333"},{"offset":0.53,"color":"rgba(255,255,255,0)"},{"offset":0.72,"color":"rgba(255,255,255,0)"},
{"offset":0.75,"color":"#333"},{"offset":0.78,"color":"rgba(255,255,255,0)"},{"offset":0.97,"color":"rgba(255,255,255,0)"},
{"offset":1,"color":"#333"}]}}},
{"data": {"name": "lleg"}, "transform": [{"filter": {"field": "k", "equal": "Px"}}],
 "mark": {"type": "point", "shape": "M-1,0A1,0.62,0,1,1,1,0A1,0.62,0,1,1,-1,0Z", "size": 1296, "filled": true, "fill": "white", "stroke": "black", "strokeWidth": 2.6, "opacity": 1}},
{"data": {"name": "lbox"},
 "mark": {"type": "rect", "cornerRadius": 14, "fill": "white", "stroke": "black", "strokeWidth": 2.6},
 "encoding": {"x2": {"field": "x2"}, "y2": {"field": "y2"}}},
{"data": {"name": "ltext"}, "transform": [{"filter": {"field": "t", "oneOf": ["data-point error ellipses are 2σ", "WR Residue", "Px Residue"]}}],
 "mark": {"type": "text", "align": "left", "baseline": "alphabetic", "font": "Liberation Sans", "fontSize": 25, "color": "black"},
 "encoding": {"text": {"field": "t"}}},
{"data": {"name": "ltext"}, "transform": [{"filter": {"field": "t", "oneOf": ["Age = 4556.75 ± 0.57 Ma", "MSWD = 1.0"]}}],
 "mark": {"type": "text", "align": "center", "baseline": "alphabetic", "font": "Liberation Sans", "fontSize": 25, "color": "black"},
 "encoding": {"text": {"field": "t"}}},
{"data": {"name": "ltext"}, "transform": [{"filter": {"field": "t", "oneOf": ["Iizuka+", "’14"]}}],
 "mark": {"type": "text", "align": "left", "baseline": "alphabetic", "font": "Liberation Serif", "fontSize": 35, "color": "black"},
 "encoding": {"text": {"field": "t"}}},
{"data": {"name": "ltext"}, "transform": [{"filter": {"field": "t", "equal": "GCA"}}],
 "mark": {"type": "text", "align": "left", "baseline": "alphabetic", "font": "Liberation Serif", "fontStyle": "italic", "fontSize": 35, "color": "black"},
 "encoding": {"text": {"field": "t"}}},
{"data": {"name": "ltext"}, "transform": [{"filter": {"field": "t", "equal": "c"}}],
 "mark": {"type": "text", "align": "left", "baseline": "alphabetic", "font": "Liberation Sans", "fontWeight": "bold", "fontSize": 36, "color": "black"},
 "encoding": {"text": {"field": "t"}}}
]
},
{
"vconcat": [
{"width": 758, "height": 1, "data": {"values": [{"a": 1}]}, "mark": {"type": "point", "opacity": 0}, "view": {"stroke": null}},
{
"width": 758, "height": 644,
"encoding": {
"x": {"field": "x", "type": "quantitative", "scale": {"domain": [0, 0.0008], "nice": false, "zero": false},
 "axis": {"values": [0,0.0001,0.0002,0.0003,0.0004,0.0005,0.0006,0.0007,0.0008],
  "labelExpr": "round(datum.value*10000) % 2 == 0 ? format(datum.value, '.4f') : ''",
  "tickSize": {"condition": {"test": "round(datum.value*10000) % 2 == 0", "value": -11}, "value": -8},
  "labelPadding": 38, "title": "²⁰⁴Pb/²⁰⁶Pb", "titleFont": "Noto Sans", "titleFontSize": 27, "titleFontWeight": "bold",
  "titleX": 379, "titleY": 100, "titleBaseline": "alphabetic"}},
"y": {"field": "y", "type": "quantitative", "scale": {"domain": [0.620, 0.626], "nice": false, "zero": false},
 "axis": {"values": [0.620,0.621,0.622,0.623,0.624,0.625,0.626],
  "labelExpr": "round(datum.value*1000) % 2 == 0 ? format(datum.value, '.3f') : ''",
  "tickSize": {"condition": {"test": "round(datum.value*1000) % 2 == 0", "value": -11}, "value": -7},
  "labelPadding": 26, "title": "²⁰⁷Pb/²⁰⁶Pb", "titleFont": "Noto Sans", "titleFontSize": 27, "titleFontWeight": "bold",
  "titleX": -122, "titleY": 287, "titleBaseline": "alphabetic"}}
},
"layer": [
{"data": {"name": "rell"}, "transform": [{"filter": {"field": "id", "oneOf": ["DA","DB","DC","DD","DE","DF","DG","DH","DI","L1","L2","L3","L4","L5"]}}],
 "mark": {"type": "line", "interpolate": "cardinal-closed", "stroke": "#111", "strokeWidth": 1.3, "clip": true},
 "encoding": {"order": {"field": "i", "type": "quantitative"}, "detail": {"field": "id", "type": "nominal"}}},
{"data": {"name": "rell"}, "transform": [{"filter": {"field": "id", "oneOf": ["A1","A2","A3","A4","A5"]}}],
 "mark": {"type": "line", "interpolate": "cardinal-closed", "stroke": "#111", "strokeWidth": 2.8, "clip": true},
 "encoding": {"order": {"field": "i", "type": "quantitative"}, "detail": {"field": "id", "type": "nominal"}}},
{"data": {"name": "rtext"}, "transform": [{"filter": {"field": "t", "oneOf": ["Amelin", "’08"]}}],
 "mark": {"type": "text", "align": "left", "baseline": "alphabetic", "font": "Liberation Serif", "fontSize": 36, "color": "black"},
 "encoding": {"text": {"field": "t"}}},
{"data": {"name": "rtext"}, "transform": [{"filter": {"field": "t", "equal": "GCA"}}],
 "mark": {"type": "text", "align": "left", "baseline": "alphabetic", "font": "Liberation Serif", "fontStyle": "italic", "fontSize": 36, "color": "black"},
 "encoding": {"text": {"field": "t"}}},
{"data": {"name": "rtext"}, "transform": [{"filter": {"field": "t", "equal": "4563.37 ± 0.25 Ma"}}],
 "mark": {"type": "text", "align": "left", "baseline": "alphabetic", "font": "Liberation Sans", "fontSize": 38, "color": "black"},
 "encoding": {"text": {"field": "t"}}},
{"data": {"name": "rtext"}, "transform": [{"filter": {"field": "t", "oneOf": ["D'Orbigny", "LEW  86010", "AdoR"]}}],
 "mark": {"type": "text", "align": "left", "baseline": "alphabetic", "font": "Liberation Sans", "fontSize": 34, "color": "black"},
 "encoding": {"text": {"field": "t"}}}
]
}
],
"spacing": 9,
"bounds": "flush"
}
],
"config": {
"view": {"stroke": "black", "strokeWidth": 3.5},
"axis": {"domain": false, "grid": false, "labelFont": "Liberation Sans", "labelFontSize": 26, "labelColor": "#111", "tickColor": "black", "tickWidth": 2.5, "labelOverlap": false, "labelBound": false, "labelFlush": false, "titleFont": "Liberation Sans", "titleColor": "black", "zindex": 1}
}
}
